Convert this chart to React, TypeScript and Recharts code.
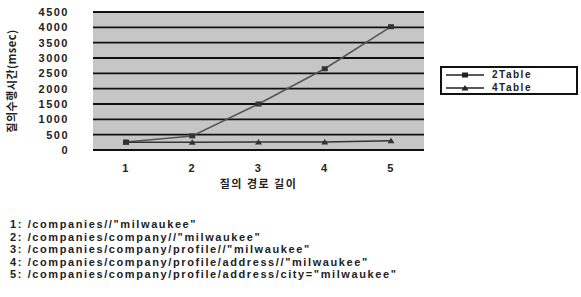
import { LineChart, Line, XAxis, YAxis, CartesianGrid } from "recharts"

const pathLengths = ["1", "2", "3", "4", "5"]
const table2 = [260, 460, 1500, 2650, 4020]
const table4 = [250, 250, 260, 260, 300]
const yTicks = [0, 500, 1000, 1500, 2000, 2500, 3000, 3500, 4000, 4500]
const queries = [
  "1: /companies//\"milwaukee\"",
  "2: /companies/company//\"milwaukee\"",
  "3: /companies/company/profile//\"milwaukee\"",
  "4: /companies/company/profile/address//\"milwaukee\"",
  "5: /companies/company/profile/address/city=\"milwaukee\"",
]

const data = pathLengths.map((p, i) => ({ name: p, t2: table2[i], t4: table4[i] }))

const tickFont = {
  fontFamily: "Liberation Sans, Arial, sans-serif",
  fontSize: 11,
  fontWeight: 700,
  fill: "#222",
  letterSpacing: 1.5,
}

const SquareDot = (props: any) => {
  const { cx, cy } = props
  if (cx == null || cy == null) return null
  return <rect x={cx - 3} y={cy - 2.5} width={6} height={5} fill="#333" />
}

const TriDot = (props: any) => {
  const { cx, cy } = props
  if (cx == null || cy == null) return null
  return <path d={`M${cx - 3.5},${cy + 2.5} L${cx + 3.5},${cy + 2.5} L${cx},${cy - 3} Z`} fill="#333" />
}

const LegendBox = () => (
  <div
    style={{
      position: "absolute",
      left: 440,
      top: 66,
      width: 134,
      height: 25,
      border: "2px solid #111",
      background: "#fff",
      fontFamily: "Liberation Sans, Arial, sans-serif",
      fontSize: 10,
      fontWeight: 700,
      color: "#222",
      overflow: "hidden",
      lineHeight: "12px",
    }}
  >
    {[
      { label: "2Table", tri: false },
      { label: "4Table", tri: true },
    ].map((e) => (
      <div key={e.label} style={{ display: "flex", alignItems: "center", height: 12, marginTop: 1 }}>
        <svg width={38} height={10} style={{ marginLeft: 4 }}>
          <line x1={0} y1={5} x2={38} y2={5} stroke="#222" strokeWidth={1.5} />
          {e.tri ? (
            <path d="M15.5,7.5 L22.5,7.5 L19,2 Z" fill="#222" />
          ) : (
            <rect x={16} y={2.5} width={6} height={5} fill="#222" />
          )}
        </svg>
        <span style={{ marginLeft: 8, letterSpacing: 1.5 }}>{e.label}</span>
      </div>
    ))}
  </div>
)

export default function App() {
  return (
    <div style={{ position: "absolute", left: 0, top: 0, width: 581, height: 297, background: "#fff" }}>
      <LineChart width={581} height={200} data={data} margin={{ top: 12, right: 157, bottom: 0, left: 0 }}>
        <CartesianGrid horizontal vertical={false} fill="#c6c6c6" stroke="#111" strokeWidth={1.8} />
        <XAxis
          dataKey="name"
          padding={{ left: 33, right: 33 }}
          tick={tickFont}
          tickLine={false}
          axisLine={{ stroke: "#111", strokeWidth: 2 }}
          tickMargin={8}
          height={50}
          label={{
            value: "질의 경로 길이",
            position: "insideBottom",
            offset: 12,
            style: { fontFamily: "Noto Sans CJK KR, sans-serif", fontSize: 11, fontWeight: 700, fill: "#222", letterSpacing: 1.5 },
          }}
        />
        <YAxis
          width={93}
          domain={[0, 4500]}
          ticks={yTicks}
          interval={0}
          tick={tickFont}
          tickLine={false}
          axisLine={false}
          tickMargin={18}
          label={{
            value: "질의수행시간(msec)",
            angle: -90,
            position: "insideLeft",
            offset: 12,
            style: {
              fontFamily: "Noto Sans CJK KR, sans-serif",
              fontSize: 11,
              fontWeight: 700,
              fill: "#222",
              textAnchor: "middle",
              letterSpacing: 0.5,
            },
          }}
        />
        <Line dataKey="t2" name="2Table" stroke="#555" strokeWidth={1.5} dot={<SquareDot />} isAnimationActive={false} />
        <Line dataKey="t4" name="4Table" stroke="#333" strokeWidth={1.5} dot={<TriDot />} isAnimationActive={false} />
      </LineChart>
      <LegendBox />
      <div
        style={{
          position: "absolute",
          left: 10,
          top: 218,
          fontFamily: "Liberation Sans, Arial, sans-serif",
          fontSize: 11,
          fontWeight: 700,
          color: "#222",
          lineHeight: "12.5px",
          letterSpacing: 1.6,
        }}
      >
        {queries.map((q) => (
          <div key={q}>{q}</div>
        ))}
      </div>
    </div>
  )
}
